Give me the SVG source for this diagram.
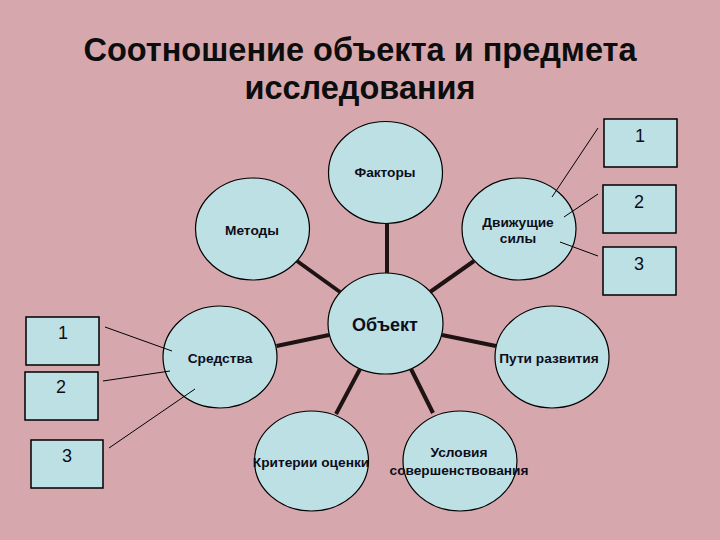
<svg xmlns="http://www.w3.org/2000/svg" width="720" height="540" viewBox="0 0 720 540">
<style>
.bg{fill:#d6a8ae}
.node ellipse{fill:#bde0e4;stroke:#000;stroke-width:1.2}
.box rect{fill:#bde0e4;stroke:#000;stroke-width:1.5}
.lbl{font-family:"Liberation Sans",Arial,sans-serif;font-weight:bold;font-size:13.7px;fill:#0d0d1a;text-anchor:middle}
.num{font-family:"Liberation Sans",Arial,sans-serif;font-size:18px;fill:#0d0d1a;text-anchor:middle}
.title{font-family:"Liberation Sans",Arial,sans-serif;font-weight:bold;font-size:32.5px;fill:#0d0d0d;text-anchor:middle}
.thick line{stroke:#1e1212;stroke-width:4}
.thin line{stroke:#000;stroke-width:1}
</style>
<rect class="bg" x="0" y="0" width="720" height="540"/>
<g id="title">
<text class="title" x="360" y="61">Соотношение объекта и предмета</text>
<text class="title" x="360" y="99">исследования</text>
</g>
<g id="n-faktory" class="node"><ellipse cx="385.5" cy="172.5" rx="57" ry="51"/><text class="lbl" x="385" y="177">Факторы</text></g>
<g id="n-metody" class="node"><ellipse cx="252.5" cy="229" rx="57" ry="51"/><text class="lbl" x="252" y="235">Методы</text></g>
<g id="n-dvizh" class="node"><ellipse cx="519" cy="229" rx="57" ry="51"/><text class="lbl" x="518" y="227">Движущие</text><text class="lbl" x="518" y="243">силы</text></g>
<g id="n-obekt" class="node"><ellipse cx="385.5" cy="323.5" rx="57.5" ry="50.5"/><text class="lbl" x="385" y="331" style="font-size:18px">Объект</text></g>
<g id="n-sredstva" class="node"><ellipse cx="220" cy="357" rx="57" ry="51"/><text class="lbl" x="220" y="363">Средства</text></g>
<g id="n-puti" class="node"><ellipse cx="552" cy="357" rx="57" ry="51"/><text class="lbl" x="549" y="363">Пути развития</text></g>
<g id="n-kriterii" class="node"><ellipse cx="311.5" cy="461" rx="57" ry="50"/><text class="lbl" x="311" y="467">Критерии оценки</text></g>
<g id="n-usloviya" class="node"><ellipse cx="460" cy="461" rx="57" ry="50"/><text class="lbl" x="459" y="457">Условия</text><text class="lbl" x="459" y="475">совершенствования</text></g>
<g id="box-r1" class="box"><rect x="604" y="119" width="73" height="48"/><text class="num" x="640" y="142">1</text></g>
<g id="box-r2" class="box"><rect x="603" y="185" width="73" height="48"/><text class="num" x="639" y="208">2</text></g>
<g id="box-r3" class="box"><rect x="603" y="247" width="73" height="48"/><text class="num" x="639" y="270">3</text></g>
<g id="box-l1" class="box"><rect x="26" y="317" width="73" height="48"/><text class="num" x="63" y="339">1</text></g>
<g id="box-l2" class="box"><rect x="25" y="372" width="73" height="48"/><text class="num" x="61" y="393">2</text></g>
<g id="box-l3" class="box"><rect x="31" y="440" width="72" height="48"/><text class="num" x="67" y="462">3</text></g>
<g id="connectors">
<g class="thick">
<line x1="387" y1="223.5" x2="387" y2="273"/>
<line x1="297" y1="261" x2="340" y2="292"/>
<line x1="474" y1="261" x2="430" y2="292"/>
<line x1="276.5" y1="346" x2="329" y2="335"/>
<line x1="442" y1="335" x2="496" y2="346"/>
<line x1="360" y1="369" x2="336" y2="414"/>
<line x1="411" y1="369" x2="433" y2="413"/>
</g>
<g class="thin">
<line x1="598" y1="128" x2="552" y2="197"/>
<line x1="598" y1="194" x2="564" y2="217"/>
<line x1="598" y1="256" x2="560" y2="242"/>
<line x1="105" y1="327" x2="172" y2="351"/>
<line x1="103" y1="381" x2="170" y2="371"/>
<line x1="109" y1="448" x2="195" y2="389"/>
</g>
</g>
</svg>
